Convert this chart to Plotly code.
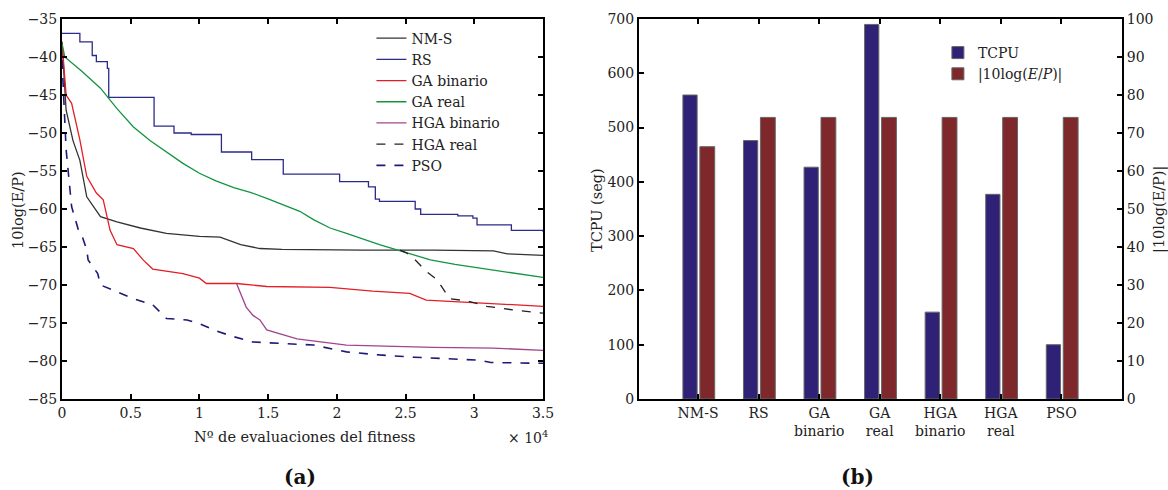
import plotly.graph_objects as go

# ---------------- data: panel (a) ----------------
# x in units of 1e4 evaluations
nms_x = [0, 0.03, 0.08, 0.13, 0.18, 0.28, 0.40, 0.57, 0.76, 1.00, 1.15, 1.30, 1.44, 1.60, 2.19, 2.70, 3.14, 3.24, 3.50]
nms_y = [-38, -47, -51, -53.6, -58.4, -61.0, -61.7, -62.5, -63.2, -63.6, -63.7, -64.7, -65.2, -65.3, -65.4, -65.4, -65.5, -65.9, -66.1]

rs_x = [0, 0.13, 0.22, 0.25, 0.33, 0.34, 0.67, 0.815, 0.94, 1.16, 1.38, 1.61, 2.02, 2.23, 2.28, 2.31, 2.57, 2.61, 2.88, 2.99, 3.02, 3.27, 3.50]
rs_y = [-36.9, -38.0, -39.8, -40.6, -41.5, -45.3, -49.1, -50.0, -50.2, -52.5, -53.5, -55.4, -56.4, -57.1, -58.7, -59.0, -60.0, -60.7, -60.9, -61.2, -62.1, -62.8, -63.0]

gab_x = [0, 0.03, 0.07, 0.13, 0.18, 0.25, 0.30, 0.35, 0.40, 0.52, 0.59, 0.66, 0.88, 1.00, 1.05, 1.27, 1.49, 1.95, 2.26, 2.53, 2.65, 2.87, 3.50]
gab_y = [-38, -45, -46.1, -50.9, -55.7, -57.9, -58.8, -62.8, -64.7, -65.2, -66.7, -67.9, -68.5, -69.1, -69.8, -69.8, -70.2, -70.3, -70.8, -71.1, -72.0, -72.2, -72.8]

gar_x = [0, 0.02, 0.14, 0.28, 0.40, 0.52, 0.64, 0.76, 0.88, 1.00, 1.12, 1.25, 1.37, 1.49, 1.61, 1.73, 1.83, 1.95, 2.07, 2.19, 2.31, 2.48, 2.68, 2.86, 3.04, 3.27, 3.50]
gar_y = [-38.2, -40.0, -41.8, -44.1, -46.8, -49.2, -51.0, -52.5, -54.0, -55.3, -56.3, -57.2, -57.8, -58.6, -59.5, -60.3, -61.4, -62.5, -63.2, -64.0, -64.7, -65.6, -66.7, -67.3, -67.8, -68.4, -69.0]

hgab_x = [1.27, 1.34, 1.39, 1.44, 1.49, 1.61, 1.71, 2.07, 2.70, 3.14, 3.50]
hgab_y = [-69.8, -72.9, -74.0, -74.6, -75.9, -76.6, -77.1, -77.9, -78.2, -78.3, -78.6]

hgar_x = [2.46, 2.51, 2.56, 2.65, 2.73, 2.80, 2.82, 2.95, 3.09, 3.29, 3.50]
hgar_y = [-65.4, -65.8, -66.5, -68.2, -69.3, -71.3, -71.8, -72.1, -72.8, -73.3, -73.7]

pso_x = [0, 0.03, 0.07, 0.12, 0.14, 0.18, 0.19, 0.26, 0.28, 0.37, 0.52, 0.66, 0.76, 0.91, 1.00, 1.13, 1.25, 1.39, 1.59, 1.83, 2.07, 2.31, 2.56, 3.04, 3.12, 3.50]
pso_y = [-40.4, -52.2, -59.7, -62.8, -63.2, -65.4, -66.7, -68.5, -70.0, -70.7, -71.8, -72.6, -74.4, -74.6, -75.1, -76.1, -76.8, -77.5, -77.7, -77.9, -78.8, -79.2, -79.5, -79.9, -80.2, -80.3]

x_ticks = [0, 0.5, 1, 1.5, 2, 2.5, 3, 3.5]
y_ticks_a = [-85, -80, -75, -70, -65, -60, -55, -50, -45, -40, -35]

# ---------------- data: panel (b) ----------------
methods = ["NM-S", "RS", "GA<br>binario", "GA<br>real", "HGA<br>binario", "HGA<br>real", "PSO"]
tcpu = [560, 476, 427, 690, 160, 377, 100]
abs_ep = [66.4, 74.1, 74.1, 74.1, 74.1, 74.1, 74.1]
y_ticks_b_left = [0, 100, 200, 300, 400, 500, 600, 700]
y_ticks_b_right = [0, 10, 20, 30, 40, 50, 60, 70, 80, 90, 100]

FONT = "DejaVu Serif"
TXT = "#222222"
C_NMS = "#333333"
C_RS = "#2b2b8a"
C_GAB = "#e31e24"
C_GAR = "#129440"
C_HGAB = "#a2448c"
C_HGAR = "#222222"
C_PSO = "#1c1a78"
C_BAR1 = "#2e2176"
C_BAR2 = "#7e282c"

fig = go.Figure()

def line(x, y, name, color, dash="solid", shape="linear", lw=1.3):
    fig.add_trace(go.Scatter(x=x, y=y, name=name, mode="lines",
                             line=dict(color=color, width=lw, dash=dash, shape=shape),
                             xaxis="x", yaxis="y", legend="legend"))

line(nms_x, nms_y, "NM-S", C_NMS)
line(rs_x, rs_y, "RS", C_RS, shape="hv")
line(gab_x, gab_y, "GA binario", C_GAB)
line(gar_x, gar_y, "GA real", C_GAR)
line(hgab_x, hgab_y, "HGA binario", C_HGAB)
line(hgar_x, hgar_y, "HGA real", C_HGAR, dash="dash")
line(pso_x, pso_y, "PSO", C_PSO, dash="dash", lw=1.6)

xcat = list(range(len(methods)))
fig.add_trace(go.Bar(x=xcat, y=tcpu, name="TCPU", marker=dict(color=C_BAR1, line=dict(color="#666666", width=1)),
                     width=0.235, offset=-0.25, xaxis="x2", yaxis="y2", legend="legend2"))
fig.add_trace(go.Bar(x=xcat, y=abs_ep, name="|10log(<i>E</i>/<i>P</i>)|",
                     marker=dict(color=C_BAR2, line=dict(color="#666666", width=1)),
                     width=0.245, offset=0.03, xaxis="x2", yaxis="y3", legend="legend2"))

tickfont = dict(family=FONT, size=14, color=TXT)
axcommon = dict(showline=True, linecolor="black", linewidth=2, ticks="inside", ticklen=5,
                tickcolor="black", tickwidth=2, showgrid=False, zeroline=False, tickfont=tickfont,
                automargin=False)

def ann(text, x, y, size=15, angle=0, bold=False, color=TXT):
    return dict(text=f"<b>{text}</b>" if bold else text, x=x/1168, y=1-y/490, xref="paper", yref="paper",
                xanchor="center", yanchor="middle", textangle=angle, showarrow=False,
                font=dict(family=FONT, size=size, color=color))

fig.update_layout(
    width=1168, height=490, margin=dict(l=0, r=0, t=0, b=0, autoexpand=False),
    plot_bgcolor="white", paper_bgcolor="white",
    barmode="overlay",
    xaxis=dict(domain=[62/1168, 543/1168], range=[0, 3.5], tickvals=x_ticks,
               ticktext=[f"{v:g}" for v in x_ticks], mirror="ticks", anchor="y", **axcommon),
    yaxis=dict(domain=[1-399/490, 1-19/490], range=[-85, -35], tickvals=y_ticks_a,
               mirror="ticks", anchor="x", **axcommon),
    xaxis2=dict(domain=[639/1168, 1122/1168], range=[-0.975, 7.0], tickvals=xcat, ticktext=methods,
                mirror="ticks", anchor="y2", **axcommon),
    yaxis2=dict(domain=[1-399/490, 1-19/490], range=[0, 700], tickvals=y_ticks_b_left,
                anchor="x2", **axcommon),
    yaxis3=dict(range=[0, 100], tickvals=y_ticks_b_right, overlaying="y2", side="right",
                anchor="x2", **axcommon),
    legend=dict(x=0.318, y=0.954, xanchor="left", yanchor="top", bgcolor="rgba(0,0,0,0)",
                font=dict(family=FONT, size=14, color=TXT), tracegroupgap=0,
                itemwidth=30, traceorder="normal"),
    legend2=dict(x=0.803, y=0.9245, xanchor="left", yanchor="top", bgcolor="rgba(0,0,0,0)",
                 font=dict(family=FONT, size=14, color=TXT), itemwidth=30),
    annotations=[
        ann("Nº de evaluaciones del fitness", 305, 437, size=14.5),
        ann("× 10<sup>4</sup>", 528, 437, size=14),
        ann("10log(E/P)", 18, 210, size=14.5, angle=-90),
        ann("TCPU (seg)", 597, 210, size=14.5, angle=-90),
        ann("|10log(E/P)|", 1159, 210, size=14.5, angle=-90),
        ann("(a)", 300, 477, size=20, bold=True, color="#111111"),
        ann("(b)", 857, 477, size=20, bold=True, color="#111111"),
    ],
)

fig.write_html("out.html")
